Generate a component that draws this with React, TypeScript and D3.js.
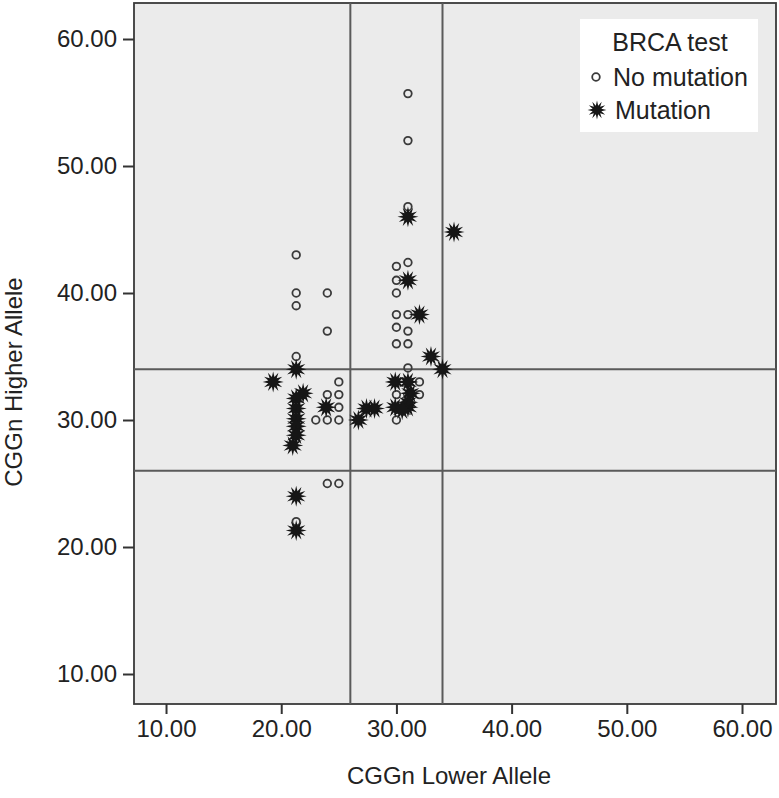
import * as d3 from "d3";
import { useEffect, useRef } from "react";

// [lower allele, higher allele]
const noMutation: [number, number][] = [
  [31, 55.7], [31, 52], [31, 46.8],
  [21.3, 43], [21.3, 40], [21.3, 39], [21.3, 35], [21.3, 22],
  [24, 40], [24, 37],
  [30, 42.1], [31, 42.4], [30, 41], [30, 40], [30, 38.3], [31, 38.3],
  [30, 37.3], [31, 37], [30, 36], [31, 36], [31, 34.1],
  [32, 33], [30, 32], [32, 32], [30, 30],
  [25, 33], [24, 32], [25, 32], [25, 31], [23, 30], [24, 30], [25, 30],
  [24, 25], [25, 25],
];

const mutation: [number, number][] = [
  [31, 46], [35, 44.8], [31, 41], [32, 38.3], [33, 35], [34, 34],
  [21.3, 34], [19.3, 33], [21.9, 32.1], [23.9, 31],
  [21.3, 31.7], [21.3, 30.9], [21.3, 30.1], [21.3, 29.5], [21.3, 28.8], [21, 28],
  [21.3, 24], [21.3, 21.3],
  [26.7, 30], [27.4, 30.9], [28.1, 30.9],
  [29.9, 33], [31, 33], [31.2, 32.1], [29.9, 31], [31, 31], [31, 31.4], [30.5, 30.8],
];

const xTicks = [10, 20, 30, 40, 50, 60];
const yTicks = [10, 20, 30, 40, 50, 60];
const refLines = [26, 34];

const App = () => {
  const svgRef = useRef<SVGSVGElement | null>(null);
  const w = 779;
  const h = 798;
  const m = { top: 3, right: 3, bottom: 94, left: 134 };
  const font = "'Liberation Sans', Arial, Helvetica, sans-serif";

  useEffect(() => {
    if (!svgRef.current) return;
    const svg = d3.select(svgRef.current);
    svg.selectAll("*").remove();

    const x = d3.scaleLinear().domain([7.22, 62.95]).range([m.left, w - m.right]);
    const y = d3.scaleLinear().domain([7.638, 62.835]).range([h - m.bottom, m.top]);

    // plot background
    svg.append("rect")
      .attr("x", m.left).attr("y", m.top)
      .attr("width", w - m.left - m.right)
      .attr("height", h - m.top - m.bottom)
      .attr("fill", "#ebebeb")
      .attr("stroke", "#3a3a3a")
      .attr("stroke-width", 1.8);

    // reference lines
    refLines.forEach(v => {
      svg.append("line")
        .attr("x1", x(v)).attr("x2", x(v))
        .attr("y1", m.top).attr("y2", h - m.bottom)
        .attr("stroke", "#5a5a5a").attr("stroke-width", 2);
      svg.append("line")
        .attr("x1", m.left).attr("x2", w - m.right)
        .attr("y1", y(v)).attr("y2", y(v))
        .attr("stroke", "#5a5a5a").attr("stroke-width", 2);
    });

    // axes
    const xAxis = svg.append("g")
      .attr("transform", `translate(0, ${h - m.bottom})`)
      .call(d3.axisBottom(x).tickValues(xTicks).tickFormat(d3.format(".2f")).tickSize(10).tickPadding(6));
    const yAxis = svg.append("g")
      .attr("transform", `translate(${m.left}, 0)`)
      .call(d3.axisLeft(y).tickValues(yTicks).tickFormat(d3.format(".2f")).tickSize(11).tickPadding(6));
    [xAxis, yAxis].forEach(g => {
      g.select(".domain").remove();
      g.selectAll(".tick line").attr("stroke", "#333").attr("stroke-width", 2);
      g.selectAll(".tick text")
        .attr("fill", "#222")
        .style("font-family", font)
        .style("font-size", "24px");
    });

    // circles
    svg.append("g")
      .selectAll("circle")
      .data(noMutation)
      .enter().append("circle")
      .attr("cx", d => x(d[0]))
      .attr("cy", d => y(d[1]))
      .attr("r", 3.8)
      .attr("fill", "none")
      .attr("stroke", "#3a3a3a")
      .attr("stroke-width", 1.8);

    // stars
    const nPts = 12;
    const starPts: [number, number][] = d3.range(nPts * 2).map(i => [
      (i * Math.PI) / nPts,
      i % 2 === 0 ? 10.5 : 5,
    ]);
    const starPath = d3.lineRadial().curve(d3.curveLinearClosed)(starPts) as string;

    svg.append("g")
      .selectAll("path")
      .data(mutation)
      .enter().append("path")
      .attr("d", starPath)
      .attr("transform", d => `translate(${x(d[0])}, ${y(d[1])})`)
      .attr("fill", "#161616");

    // legend
    const lg = svg.append("g");
    lg.append("rect")
      .attr("x", 580).attr("y", 19)
      .attr("width", 178).attr("height", 113)
      .attr("fill", "#ffffff");
    lg.append("text")
      .attr("x", 670).attr("y", 51)
      .attr("text-anchor", "middle")
      .style("font-family", font).style("font-size", "25px")
      .attr("fill", "#222")
      .text("BRCA test");
    lg.append("circle")
      .attr("cx", 596).attr("cy", 77).attr("r", 3.8)
      .attr("fill", "none").attr("stroke", "#3a3a3a").attr("stroke-width", 1.8);
    lg.append("text")
      .attr("x", 613).attr("y", 86)
      .style("font-family", font).style("font-size", "25px")
      .attr("fill", "#222")
      .text("No mutation");
    lg.append("path")
      .attr("d", starPath)
      .attr("transform", "translate(597, 110) scale(0.9)")
      .attr("fill", "#161616");
    lg.append("text")
      .attr("x", 615).attr("y", 119)
      .style("font-family", font).style("font-size", "25px")
      .attr("fill", "#222")
      .text("Mutation");

    // axis titles
    svg.append("text")
      .attr("x", 449).attr("y", 784)
      .attr("text-anchor", "middle")
      .style("font-family", font).style("font-size", "24px")
      .attr("fill", "#222")
      .text("CGGn Lower Allele");
    svg.append("text")
      .attr("transform", "translate(22, 382) rotate(-90)")
      .attr("text-anchor", "middle")
      .style("font-family", font).style("font-size", "24px")
      .attr("fill", "#222")
      .text("CGGn Higher Allele");
  }, []);

  return (
    <svg
      ref={svgRef}
      width={w}
      height={h}
      style={{ position: "absolute", left: 0, top: 0, background: "#fff" }}
    ></svg>
  );
};

export default App;
